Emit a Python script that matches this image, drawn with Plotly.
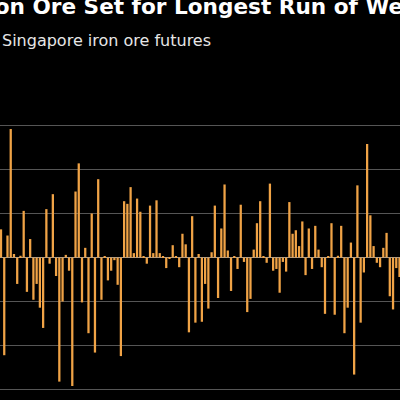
import plotly.graph_objects as go

title_text = "Iron Ore Set for Longest Run of Weekly Gains"
subtitle_text = "Singapore iron ore futures"

weekly_change_pct = [
    3.2, -11.1, 2.5, 14.6, 0.4, -3.0, 0.2, 5.3, -3.9, 2.1,
    -4.8, -3.0, -5.7, -8.0, 5.5, -0.7, 7.2, -2.1, -14.1, -5.0,
    0.3, -1.5, -14.6, 7.5, 10.7, -5.1, 1.1, -8.6, 5.0, -10.8,
    8.9, -4.8, 0.1, -2.6, -1.5, -0.3, -3.1, -11.2, 6.4, 6.1,
    8.0, 0.5, 6.7, 5.2, 0.1, -0.7, 5.9, 0.5, 6.5, 0.5,
    0.1, -1.2, -0.1, 1.4, 0.1, -1.1, 2.7, 1.5, -8.5, 4.7,
    -7.4, 0.4, -7.3, -3.0, -5.8, 0.6, 5.9, -4.6, 3.3, 8.3,
    0.8, -3.8, 0.1, -1.3, 6.0, -0.5, -6.2, -4.7, 0.9, 3.9,
    6.4, 0.1, -0.6, 8.4, -1.5, -1.3, -4.0, -0.5, -1.6, 6.3,
    2.7, 3.1, 1.3, 4.1, -2.0, 3.3, -1.3, 3.6, 0.9, -1.1,
    -6.4, 0.1, 3.9, -6.5, 0.2, 3.6, -8.6, -5.7, 1.7, -13.3,
    8.2, -7.4, -1.7, 12.9, 4.8, 1.3, -0.6, -1.1, 1.1, 2.8,
    -4.4, -5.9, -1.2, -2.2,
]
week_index = list(range(len(weekly_change_pct)))
y_ticks = [-15, -10, -5, 0, 5, 10, 15]

fig = go.Figure(
    go.Bar(
        x=week_index,
        y=weekly_change_pct,
        marker=dict(color="#F0A346", line=dict(width=0)),
        hoverinfo="skip",
    )
)

fig.update_layout(
    width=400,
    height=400,
    margin=dict(l=0, r=0, t=100, b=0),
    paper_bgcolor="#000000",
    plot_bgcolor="#000000",
    bargap=0.3,
    showlegend=False,
    xaxis=dict(
        range=[-0.31, 123.15],
        showgrid=False,
        zeroline=False,
        showticklabels=False,
        ticks="",
        showline=False,
    ),
    yaxis=dict(
        range=[-16.19, 17.9],
        tickvals=y_ticks,
        showticklabels=False,
        ticks="",
        showgrid=True,
        gridcolor="#555555",
        gridwidth=1,
        zeroline=True,
        zerolinecolor="#9a9a9a",
        zerolinewidth=1,
        showline=False,
    ),
    annotations=[
        dict(
            text="<b>" + title_text + "</b>",
            xref="paper", yref="paper",
            x=-0.065, y=(400 - 6) / 300,
            xanchor="left", yanchor="middle",
            showarrow=False,
            font=dict(family="DejaVu Sans", size=21.6, color="#ffffff"),
        ),
        dict(
            text=subtitle_text,
            xref="paper", yref="paper",
            x=0.0, y=(400 - 40) / 300,
            xanchor="left", yanchor="middle",
            showarrow=False,
            font=dict(family="DejaVu Sans", size=16, color="#e6e6e6"),
        ),
    ],
)

fig.write_html("out.html")
